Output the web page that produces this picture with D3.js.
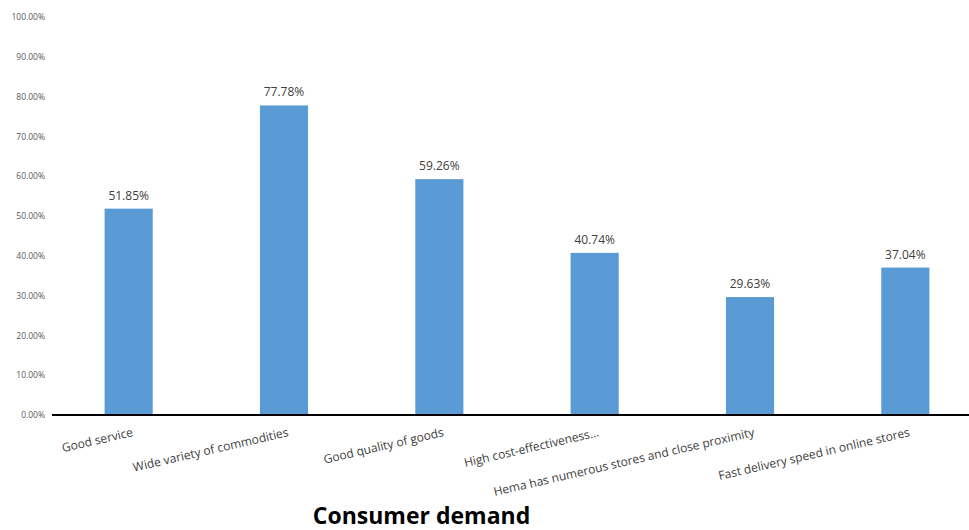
<!DOCTYPE html>
<html><head><meta charset="utf-8">
<script src="https://cdn.jsdelivr.net/npm/d3@7"></script>
<style>body{margin:0;background:#fff}svg{display:block}</style>
</head><body>
<script>
const categories = ["Good service","Wide variety of commodities","Good quality of goods","High cost-effectiveness...","Hema has numerous stores and close proximity","Fast delivery speed in online stores"];
const values = [51.85, 77.78, 59.26, 40.74, 29.63, 37.04];
const yTicks = [0,10,20,30,40,50,60,70,80,90,100];
const title = "Consumer demand";

const W = 969, H = 530;
const svg = d3.select("body").append("svg").attr("width", W).attr("height", H);
const font = "'Open Sans', 'Liberation Sans', sans-serif";

const x = d3.scaleBand().domain(categories).range([51, 983]).paddingInner(0.69).paddingOuter(0.345);
const y = d3.scaleLinear().domain([0, 100]).range([415, 17]);

// y tick labels
const yAxis = d3.axisLeft(y).tickValues(yTicks).tickSize(0).tickPadding(0)
  .tickFormat(d => d.toFixed(2) + "%");
const gy = svg.append("g").attr("transform", "translate(45,0)").call(yAxis);
gy.select(".domain").remove();
gy.selectAll("text").attr("font-family", font).attr("font-size", 8.5).attr("fill", "#595959").attr("dy", "0.32em");

// bars
svg.append("g").selectAll("rect").data(values).join("rect")
  .attr("x", (d, i) => x(categories[i]))
  .attr("width", x.bandwidth())
  .attr("y", d => y(d))
  .attr("height", d => y(0) - y(d))
  .attr("fill", "#5b9bd5");

// data labels
svg.append("g").selectAll("text").data(values).join("text")
  .attr("x", (d, i) => x(categories[i]) + x.bandwidth() / 2)
  .attr("y", d => y(d) - 9)
  .attr("text-anchor", "middle")
  .attr("font-family", font).attr("font-size", 12).attr("fill", "#404040")
  .text(d => d.toFixed(2) + "%");

// x axis line
svg.append("line").attr("x1", 52).attr("x2", W).attr("y1", y(0)).attr("y2", y(0))
  .attr("stroke", "#000").attr("stroke-width", 2);

// x category labels
const xAxis = d3.axisBottom(x).tickSize(0).tickPadding(0);
const gx = svg.append("g").attr("transform", `translate(0,${y(0)})`).call(xAxis);
gx.select(".domain").remove();
gx.selectAll("text")
  .attr("font-family", font).attr("font-size", 12).attr("fill", "#404040")
  .attr("text-anchor", "end")
  .attr("dy", 0).attr("y", 0)
  .attr("transform", "translate(5,21) rotate(-13)");

// title
svg.append("text").attr("x", 421.5).attr("y", 523.5).attr("text-anchor", "middle")
  .attr("font-family", font).attr("font-weight", "bold").attr("font-size", 23).attr("fill", "#000")
  .text(title);
</script>
</body></html>
